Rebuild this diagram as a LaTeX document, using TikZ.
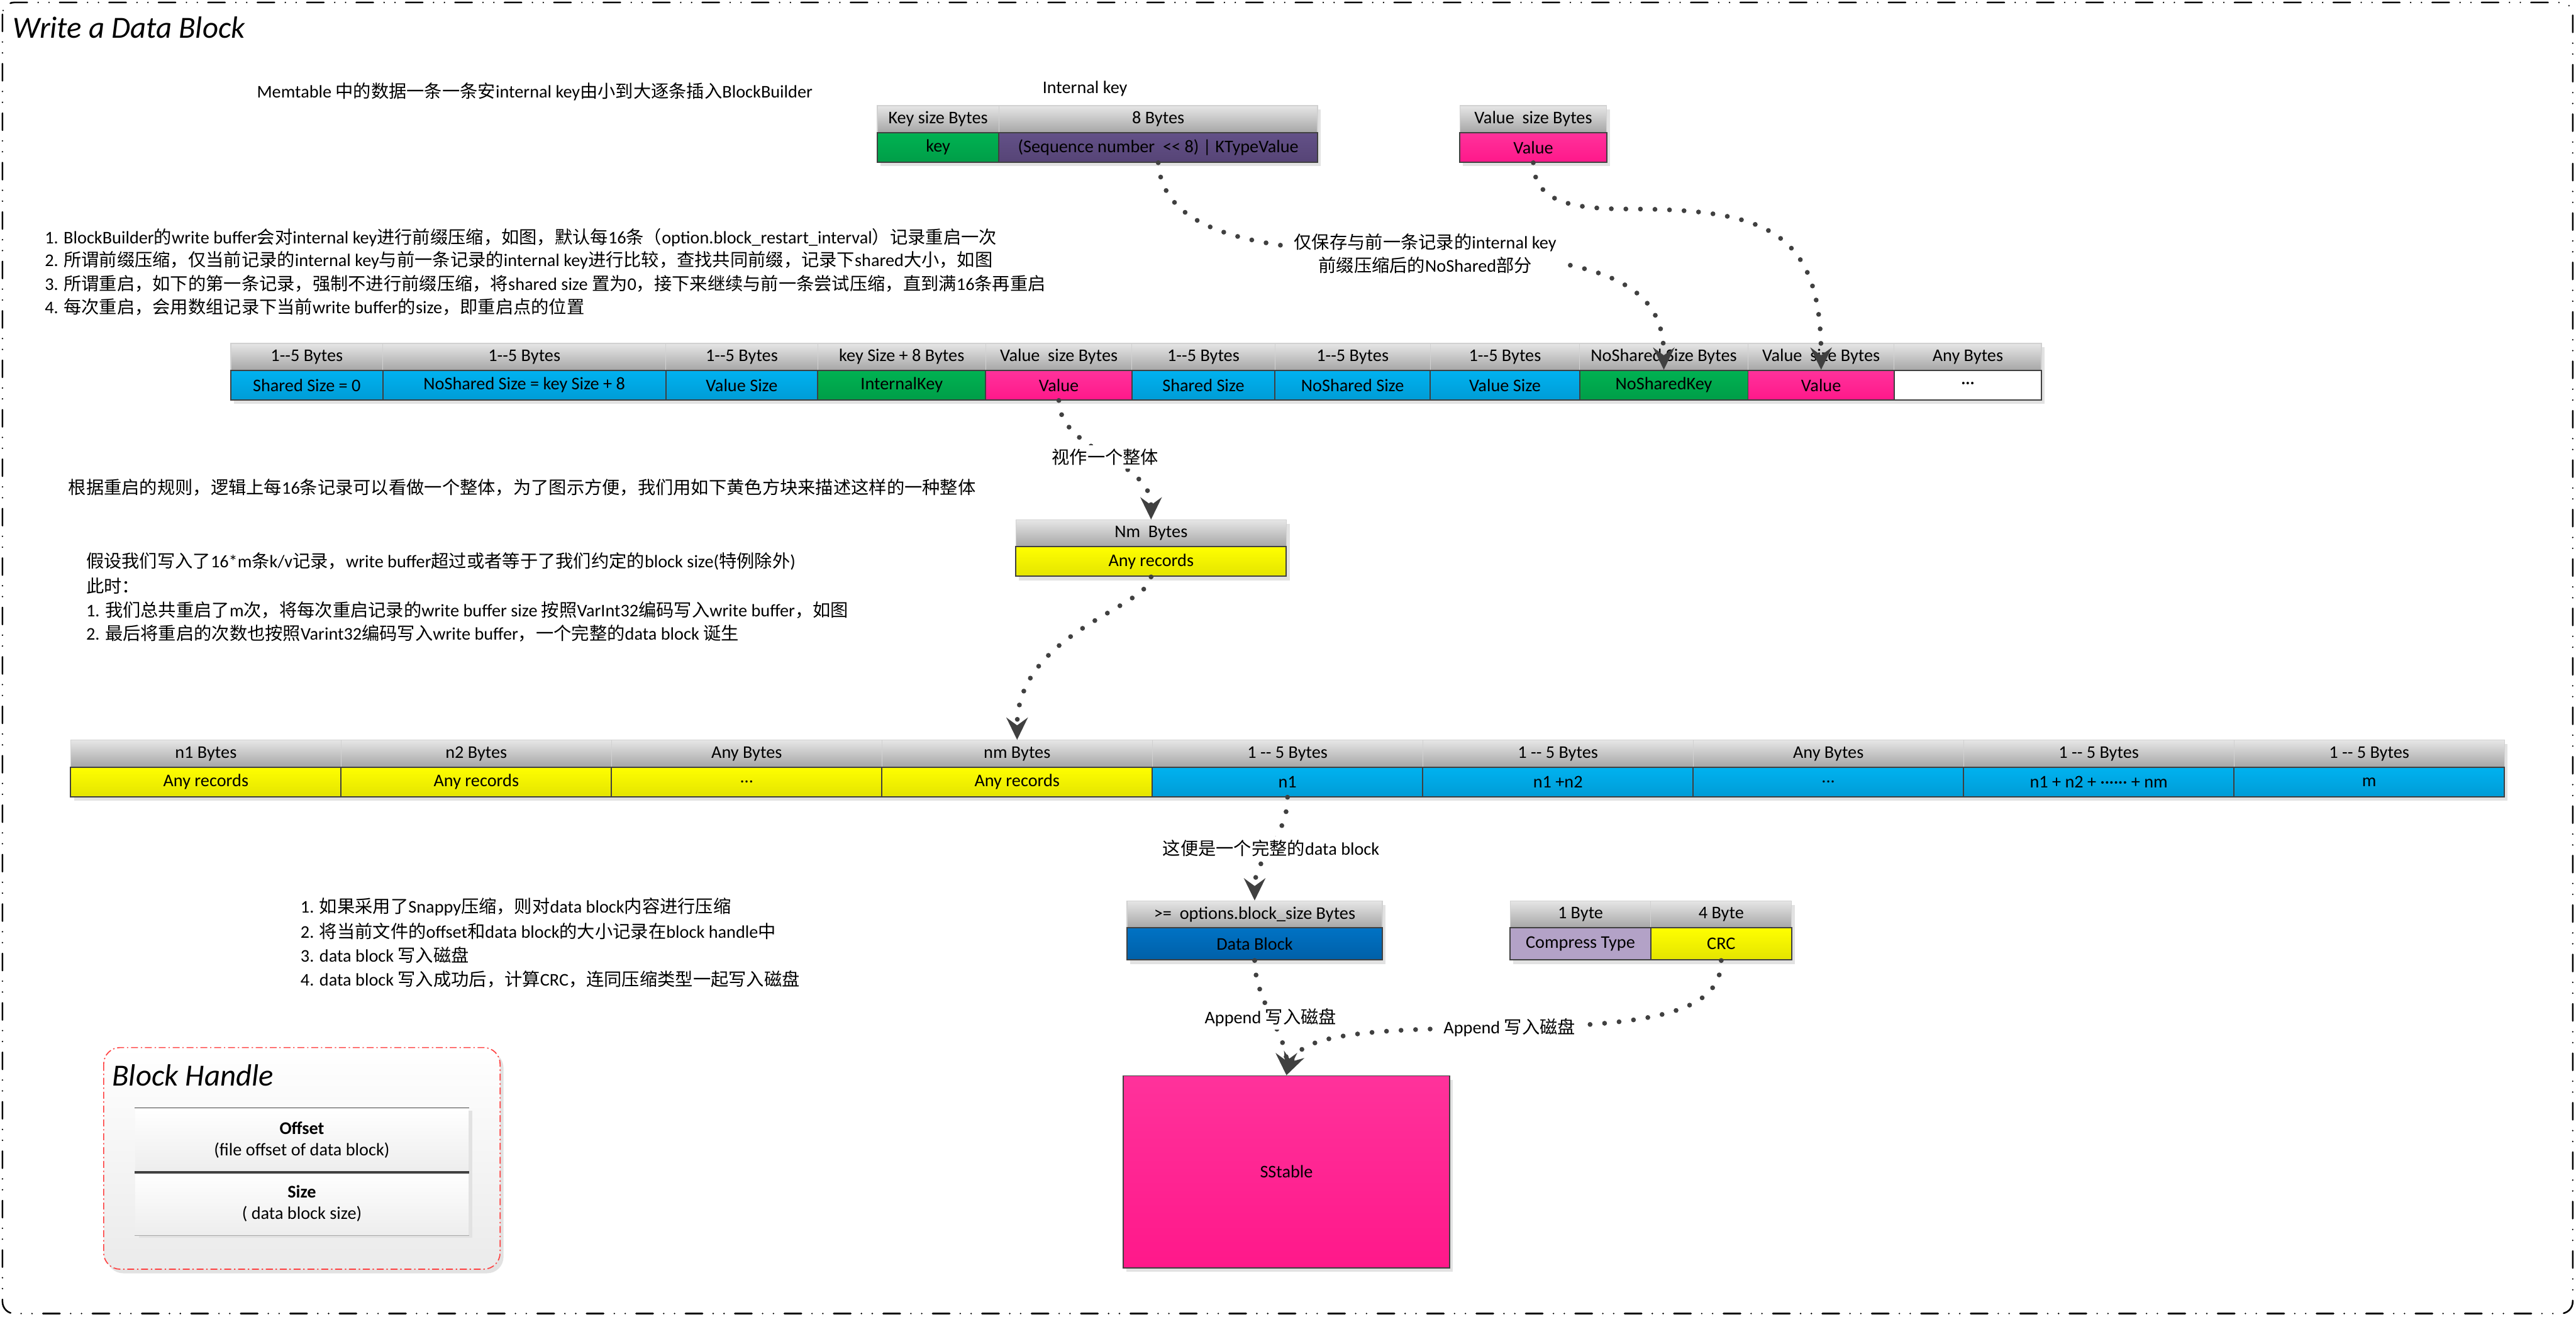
\documentclass[tikz,border=0pt]{standalone}
\usepackage{fontspec}
\setmainfont{Carlito}
\newfontfamily\zhfont{Noto Sans CJK SC}
\usetikzlibrary{arrows.meta,shadows}

\XeTeXinterchartokenstate=1
\newXeTeXintercharclass\zhclass
\count255="21
\loop
  \XeTeXcharclass\count255=0
  \advance\count255 by 1
\ifnum\count255<"7F \repeat
\XeTeXcharclass"B7=0
\count255="3000
\loop
  \XeTeXcharclass\count255=\zhclass
  \advance\count255 by 1
\ifnum\count255<"A000 \repeat
\count255="FF00
\loop
  \XeTeXcharclass\count255=\zhclass
  \advance\count255 by 1
\ifnum\count255<"FFF0 \repeat
\XeTeXinterchartoks 0 \zhclass = {\begingroup\zhfont}
\XeTeXinterchartoks 4095 \zhclass = {\begingroup\zhfont}
\XeTeXinterchartoks \zhclass 0 = {\endgroup}
\XeTeXinterchartoks \zhclass 4095 = {\endgroup}

\definecolor{hdrtop}{RGB}{230,230,230}
\definecolor{hdrbot}{RGB}{166,166,166}
\definecolor{celline}{RGB}{64,64,64}
\definecolor{dotgray}{RGB}{64,64,64}
\definecolor{shadowgray}{RGB}{226,226,226}
\definecolor{bluetop}{RGB}{0,178,240}
\definecolor{bluebot}{RGB}{0,156,214}
\definecolor{greentop}{RGB}{0,178,82}
\definecolor{greenbot}{RGB}{0,158,72}
\definecolor{pinktop}{RGB}{255,50,155}
\definecolor{pinkbot}{RGB}{255,24,138}
\definecolor{purpletop}{RGB}{99,81,136}
\definecolor{purplebot}{RGB}{86,68,118}
\definecolor{yellowtop}{RGB}{255,255,0}
\definecolor{yellowbot}{RGB}{228,228,0}
\definecolor{navytop}{RGB}{0,114,196}
\definecolor{navybot}{RGB}{0,96,168}
\definecolor{lavender}{RGB}{179,162,199}

\tikzset{
  hdr/.style={minimum height=4.1mm, inner sep=0pt, top color=hdrtop, bottom color=hdrbot,
    draw=black!18, line width=0.3pt,
    drop shadow={shadow xshift=0.5mm, shadow yshift=-0.6mm, fill=shadowgray, opacity=1}},
  fld/.style={minimum height=4.5mm, inner sep=0pt, draw=celline, line width=0.5pt,
    drop shadow={shadow xshift=0.5mm, shadow yshift=-0.6mm, fill=shadowgray, opacity=1}},
  bluefld/.style={fld, top color=bluetop, bottom color=bluebot},
  greenfld/.style={fld, top color=greentop, bottom color=greenbot},
  pinkfld/.style={fld, top color=pinktop, bottom color=pinkbot},
  purplefld/.style={fld, top color=purpletop, bottom color=purplebot},
  yellowfld/.style={fld, top color=yellowtop, bottom color=yellowbot},
  navyfld/.style={fld, top color=navytop, bottom color=navybot},
  lavfld/.style={fld, fill=lavender},
  whitefld/.style={fld, fill=white},
  bhcell/.style={minimum width=50.725mm, minimum height=9.65mm, inner sep=0pt, align=center,
    top color=white, bottom color=black!7,
    drop shadow={shadow xshift=0.6mm, shadow yshift=-0.4mm, fill=shadowgray, opacity=1}},
  txt/.style={anchor=west, inner sep=0pt},
  lbl/.style={fill=white, inner sep=1.5pt},
  dotline/.style={draw=dotgray, line width=2.1pt, line cap=round, dash pattern=on 0pt off 6.3pt},
  arr/.style={-{Stealth[length=3.4mm, width=3.3mm, inset=1.2mm, line width=0.4pt]}},
  outerframe/.style={line width=0.7pt, line cap=round, rounded corners=1.8mm,
    dash pattern=on 7.4pt off 4.6pt on 0pt off 4.7pt on 0pt off 4.7pt},
}

\begin{document}
\begin{tikzpicture}[x=0.25mm, y=-0.25mm, font=\fontsize{7.7}{9.4}\selectfont]
  \useasboundingbox (0,0) rectangle (1568,801.6);
  \draw[outerframe] (1.5,1.5) rectangle (1566,799.5);
  \node[anchor=base west, inner sep=0pt, font=\fontsize{13.3}{16}\selectfont\itshape] (title) at (7.7,23) {Write a Data Block};

  \node (memtable) at (325.5,56) {Memtable 中的数据一条一条安internal key由小到大逐条插入BlockBuilder};
  \node (ikname) at (660.4,54) {Internal key};
  \node[hdr, minimum width=18.5mm] (ikh1) at (571,72.5) {Key size Bytes};
  \node[hdr, minimum width=48.5mm] (ikh2) at (705,72.5) {8 Bytes};
  \node[greenfld, minimum width=18.5mm] (ikkey) at (571,89.7) {key};
  \node[purplefld, minimum width=48.5mm] (ikseq) at (705,89.7) {(Sequence number\ \ <{}< 8) | KTypeValue};
  \node[hdr, minimum width=22.35mm] (vh) at (933.3,72.5) {Value\ \ size Bytes};
  \node[pinkfld, minimum width=22.35mm] (vval) at (933.3,89.7) {Value};

  \node[txt] (rule1) at (27,144.5) {1. BlockBuilder的write buffer会对internal key进行前缀压缩，如图，默认每16条（option.block\_restart\_interval）记录重启一次};
  \node[txt] (rule2) at (27,158.5) {2. 所谓前缀压缩，仅当前记录的internal key与前一条记录的internal key进行比较，查找共同前缀，记录下shared大小，如图};
  \node[txt] (rule3) at (27,172.8) {3. 所谓重启，如下的第一条记录，强制不进行前缀压缩，将shared size 置为0，接下来继续与前一条尝试压缩，直到满16条再重启};
  \node[txt] (rule4) at (27,187) {4. 每次重启，会用数组记录下当前write buffer的size，即重启点的位置};

  \node[hdr, minimum width=23.125mm] (r2h1) at (186.75,217.2) {1-{}-5 Bytes};
  \node[hdr, minimum width=43.075mm] (r2h2) at (319.15,217.2) {1-{}-5 Bytes};
  \node[hdr, minimum width=23.1mm] (r2h3) at (451.5,217.2) {1-{}-5 Bytes};
  \node[hdr, minimum width=25.575mm] (r2h4) at (548.85,217.2) {key Size + 8 Bytes};
  \node[hdr, minimum width=22.25mm] (r2h5) at (644.5,217.2) {Value\ \ size Bytes};
  \node[hdr, minimum width=21.75mm] (r2h6) at (732.5,217.2) {1-{}-5 Bytes};
  \node[hdr, minimum width=23.65mm] (r2h7) at (823.3,217.2) {1-{}-5 Bytes};
  \node[hdr, minimum width=22.725mm] (r2h8) at (916.05,217.2) {1-{}-5 Bytes};
  \node[hdr, minimum width=25.625mm] (r2h9) at (1012.75,217.2) {NoShared Size Bytes};
  \node[hdr, minimum width=22.25mm] (r2h10) at (1108.5,217.2) {Value\ \ size Bytes};
  \node[hdr, minimum width=22.4mm] (r2h11) at (1197.8,217.2) {Any Bytes};
  \node[bluefld, minimum width=23.125mm] (shared0) at (186.75,234.4) {Shared Size = 0};
  \node[bluefld, minimum width=43.075mm] (nshared0) at (319.15,234.4) {NoShared Size = key Size + 8};
  \node[bluefld, minimum width=23.1mm] (vsize0) at (451.5,234.4) {Value Size};
  \node[greenfld, minimum width=25.575mm] (ikey) at (548.85,234.4) {InternalKey};
  \node[pinkfld, minimum width=22.25mm] (val0) at (644.5,234.4) {Value};
  \node[bluefld, minimum width=21.75mm] (shared) at (732.5,234.4) {Shared Size};
  \node[bluefld, minimum width=23.65mm] (nshared) at (823.3,234.4) {NoShared Size};
  \node[bluefld, minimum width=22.725mm] (vsize) at (916.05,234.4) {Value Size};
  \node[greenfld, minimum width=25.625mm] (nskey) at (1012.75,234.4) {NoSharedKey};
  \node[pinkfld, minimum width=22.25mm] (val) at (1108.5,234.4) {Value};
  \node[whitefld, minimum width=22.4mm] (more) at (1197.8,234.4) {···};

  \node[txt] (whole) at (41.4,296.6) {根据重启的规则，逻辑上每16条记录可以看做一个整体，为了图示方便，我们用如下黄色方块来描述这样的一种整体};

  \node[hdr, minimum width=41.175mm] (nmh) at (700.65,324.6) {Nm\ \ Bytes};
  \node[yellowfld, minimum width=41.175mm] (nmb) at (700.65,341.8) {Any records};

  \node[txt] (assume) at (52.2,341.7) {假设我们写入了16*m条k/v记录，write buffer超过或者等于了我们约定的block size(特例除外)};
  \node[txt] (now) at (52.2,356.5) {此时：};
  \node[txt] (step1) at (52.2,371.3) {1. 我们总共重启了m次，将每次重启记录的write buffer size 按照VarInt32编码写入write buffer，如图};
  \node[txt] (step2) at (52.2,385.4) {2. 最后将重启的次数也按照Varint32编码写入write buffer，一个完整的data block 诞生};

  \node[hdr, minimum width=41.15mm] (r4h1) at (125.3,458.7) {n1 Bytes};
  \node[hdr, minimum width=41.15mm] (r4h2) at (289.9,458.7) {n2 Bytes};
  \node[hdr, minimum width=41.15mm] (r4h3) at (454.5,458.7) {Any Bytes};
  \node[hdr, minimum width=41.15mm] (r4h4) at (619.1,458.7) {nm Bytes};
  \node[hdr, minimum width=41.15mm] (r4h5) at (783.7,458.7) {1 -{}- 5 Bytes};
  \node[hdr, minimum width=41.15mm] (r4h6) at (948.3,458.7) {1 -{}- 5 Bytes};
  \node[hdr, minimum width=41.15mm] (r4h7) at (1112.9,458.7) {Any Bytes};
  \node[hdr, minimum width=41.15mm] (r4h8) at (1277.5,458.7) {1 -{}- 5 Bytes};
  \node[hdr, minimum width=41.15mm] (r4h9) at (1442.1,458.7) {1 -{}- 5 Bytes};
  \node[yellowfld, minimum width=41.15mm] (rec1) at (125.3,475.9) {Any records};
  \node[yellowfld, minimum width=41.15mm] (rec2) at (289.9,475.9) {Any records};
  \node[yellowfld, minimum width=41.15mm] (recdots) at (454.5,475.9) {...};
  \node[yellowfld, minimum width=41.15mm] (recm) at (619.1,475.9) {Any records};
  \node[bluefld, minimum width=41.15mm] (off1) at (783.7,475.9) {n1};
  \node[bluefld, minimum width=41.15mm] (off2) at (948.3,475.9) {n1 +n2};
  \node[bluefld, minimum width=41.15mm] (offdots) at (1112.9,475.9) {...};
  \node[bluefld, minimum width=41.15mm] (offm) at (1277.5,475.9) {n1 + n2 + ······ + nm};
  \node[bluefld, minimum width=41.15mm] (restarts) at (1442.1,475.9) {m};

  \node[txt] (snappy1) at (182.7,552) {1. 如果采用了Snappy压缩，则对data block内容进行压缩};
  \node[txt] (snappy2) at (182.7,566.7) {2. 将当前文件的offset和data block的大小记录在block handle中};
  \node[txt] (snappy3) at (182.7,581.4) {3. data block 写入磁盘};
  \node[txt] (snappy4) at (182.7,596.2) {4. data block 写入成功后，计算CRC，连同压缩类型一起写入磁盘};

  \node[hdr, minimum width=38.85mm] (dbh) at (763.7,556.5) {>=\ \ options.block\_size Bytes};
  \node[navyfld, minimum width=38.85mm, minimum height=4.9mm] (dbb) at (763.7,574.5) {Data Block};
  \node[hdr, minimum width=21.4mm] (cth) at (962,556.5) {1 Byte};
  \node[hdr, minimum width=21.45mm] (crch) at (1047.7,556.5) {4 Byte};
  \node[lavfld, minimum width=21.4mm, minimum height=4.9mm] (ctype) at (962,574.5) {Compress Type};
  \node[yellowfld, minimum width=21.45mm, minimum height=4.9mm] (crc) at (1047.7,574.5) {CRC};

  \node[pinkfld, minimum width=49.675mm, minimum height=29.2mm] (sstable) at (783.05,713.2) {SStable};

  \fill[shadowgray, rounded corners=2.5mm] (65,640) rectangle (306.5,775);
  \draw[red!75, line width=0.45pt, dash pattern=on 3pt off 1.2pt on 0.6pt off 1.2pt, rounded corners=2.5mm,
    top color=white, bottom color=black!8] (63.1,637.6) rectangle (304.4,772.5);
  \node[anchor=base west, inner sep=0pt, font=\fontsize{13.3}{16}\selectfont\itshape] (bhtitle) at (68,660.8) {Block Handle};
  \node[bhcell] (offset) at (183.75,693.9) {\textbf{Offset}\\(file offset of data block)};
  \node[bhcell] (bsize) at (183.75,732.5) {\textbf{Size}\\( data block size)};
  \draw[black!75, line width=0.5pt] (offset.north west) -- (offset.north east);
  \draw[black!75, line width=1.1pt] (offset.south west) -- (offset.south east);
  \draw[black!35, line width=0.4pt] (bsize.south west) -- (bsize.south east);

  \coordinate (ikmid) at (867.5,154.3);
  \draw[dotline, arr] (ikseq.south) .. controls (708,140) and (760,154.3) .. (ikmid)
    node[lbl, align=center] {仅保存与前一条记录的internal key\\[0.8pt]前缀压缩后的NoShared部分}
    .. controls (990,154.3) and (1012.75,180) .. (nskey.north);
  \coordinate (vmid) at (990,127.2);
  \draw[dotline, arr] (vval.south) .. controls (934,120) and (950,127.2) .. (vmid)
    .. controls (1075,127.2) and (1108.5,140) .. (val.north);
  \draw[dotline, arr] (val0.south) .. controls (645,275) and (700.65,280) .. (nmh.north)
    node[lbl, pos=0.5] {视作一个整体};
  \draw[dotline, arr] (nmb.south) .. controls (699,370) and (619.1,385) .. (r4h4.north);
  \draw[dotline, arr] (off1.south) .. controls (783.7,510) and (763.7,522) .. (dbh.north)
    node[lbl, pos=0.5] {这便是一个完整的data block};
  \draw[dotline, arr] (dbb.south) .. controls (763.7,608) and (783,630) .. (sstable.north)
    node[lbl, pos=0.5] {Append 写入磁盘};
  \coordinate (crcmid) at (918.8,625.5);
  \draw[dotline, arr] (crc.south) .. controls (1047.7,615) and (1010,624) .. (crcmid)
    node[lbl] {Append 写入磁盘}
    .. controls (830,626) and (792,630) .. (sstable.north);
\end{tikzpicture}
\end{document}
